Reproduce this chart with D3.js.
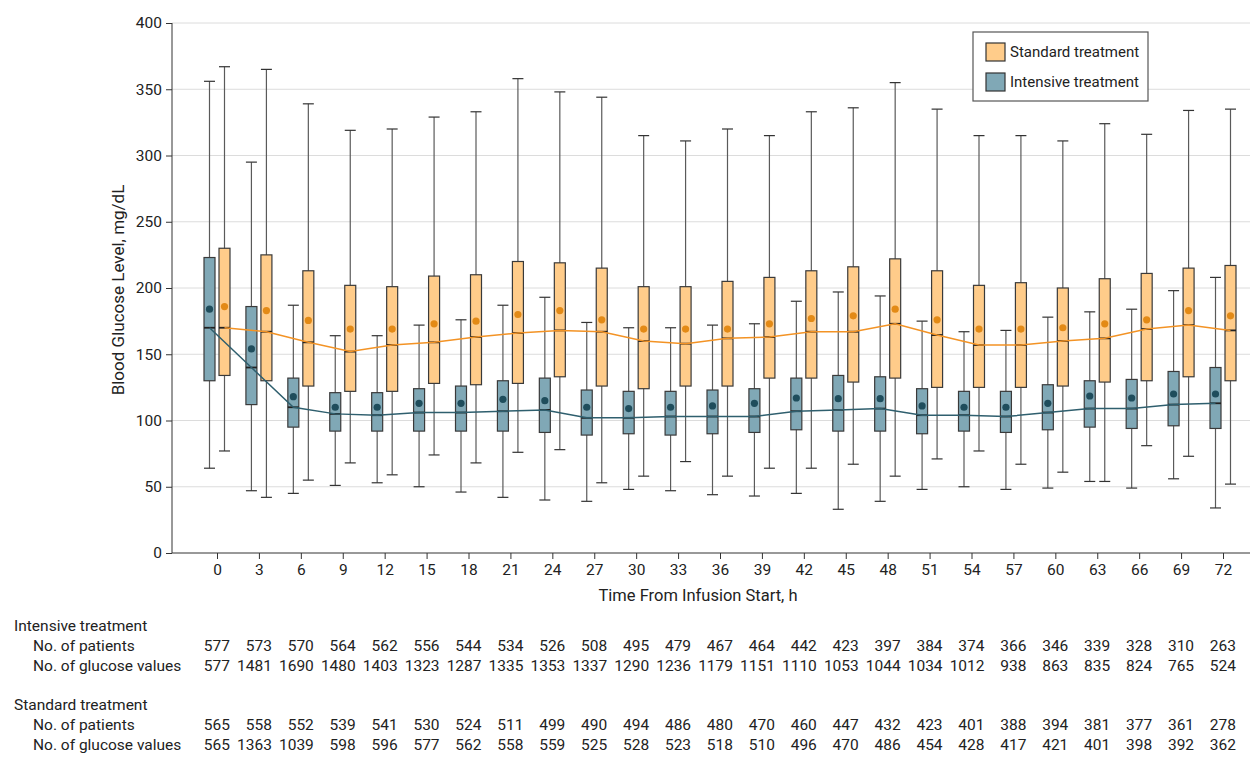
<!DOCTYPE html>
<html>
<head>
<meta charset="utf-8">
<script src="https://cdn.jsdelivr.net/npm/d3@7"></script>
<style>
  body { margin: 0; background: #fff; }
  svg { font-family: Roboto, "Noto Sans", sans-serif; }
</style>
</head>
<body>
<div id="chart"></div>
<script>
const hours = [0, 3, 6, 9, 12, 15, 18, 21, 24, 27, 30, 33, 36, 39, 42, 45, 48, 51, 54, 57, 60, 63, 66, 69, 72];

// intensive treatment box stats
const intLo   = [64, 47, 45, 51, 53, 50, 46, 42, 40, 39, 48, 47, 44, 43, 45, 33, 39, 48, 50, 48, 49, 54, 49, 56, 34];
const intQ1   = [130, 112, 95, 92, 92, 92, 92, 92, 91, 89, 90, 89, 90, 91, 93, 92, 92, 90, 92, 91, 93, 95, 94, 96, 94];
const intMed  = [170, 140, 110, 105, 104, 106, 106, 107, 108, 102, 102, 103, 103, 103, 107, 108, 109, 104, 104, 103, 106, 109, 109, 112, 113];
const intQ3   = [223, 186, 132, 121, 121, 124, 126, 130, 132, 123, 122, 122, 123, 124, 132, 134, 133, 124, 122, 122, 127, 130, 131, 137, 140];
const intHi   = [356, 295, 187, 164, 164, 172, 176, 187, 193, 174, 170, 170, 172, 173, 190, 197, 194, 175, 167, 168, 178, 182, 184, 198, 208];
const intMean = [184, 154, 118, 110, 110, 113, 113, 116, 115, 110, 109, 110, 111, 113, 117, 116.5, 116.5, 111, 110, 110, 113, 118.5, 117, 120, 120];

// standard treatment box stats
const stdLo   = [77, 42, 55, 68, 59, 74, 68, 76, 78, 53, 58, 69, 58, 64, 64, 67, 58, 71, 77, 67, 61, 54, 81, 73, 52];
const stdQ1   = [134, 130, 126, 122, 122, 128, 127, 128, 133, 126, 124, 126, 126, 132, 132, 129, 132, 125, 125, 125, 126, 129, 130, 133, 130];
const stdMed  = [170, 167, 159, 152, 157, 159, 163, 166, 168, 167, 160, 158, 162, 163, 167, 167, 173, 164.5, 157, 157, 160, 162, 169, 172, 168];
const stdQ3   = [230, 225, 213, 202, 201, 209, 210, 220, 219, 215, 201, 201, 205, 208, 213, 216, 222, 213, 202, 204, 200, 207, 211, 215, 217];
const stdHi   = [367, 365, 339, 319, 320, 329, 333, 358, 348, 344, 315, 311, 320, 315, 333, 336, 355, 335, 315, 315, 311, 324, 316, 334, 335];
const stdMean = [186, 183, 175.5, 169, 169, 173, 175, 180, 183, 176, 169, 169, 169, 173, 177, 179, 184, 176, 169, 169, 170, 173, 176, 183, 179];

// table under the chart
const intPatients = [577, 573, 570, 564, 562, 556, 544, 534, 526, 508, 495, 479, 467, 464, 442, 423, 397, 384, 374, 366, 346, 339, 328, 310, 263];
const intValues   = [577, 1481, 1690, 1480, 1403, 1323, 1287, 1335, 1353, 1337, 1290, 1236, 1179, 1151, 1110, 1053, 1044, 1034, 1012, 938, 863, 835, 824, 765, 524];
const stdPatients = [565, 558, 552, 539, 541, 530, 524, 511, 499, 490, 494, 486, 480, 470, 460, 447, 432, 423, 401, 388, 394, 381, 377, 361, 278];
const stdValues   = [565, 1363, 1039, 598, 596, 577, 562, 558, 559, 525, 528, 523, 518, 510, 496, 470, 486, 454, 428, 417, 421, 401, 398, 392, 362];

const yTicks = [0, 50, 100, 150, 200, 250, 300, 350, 400];

const width = 1252, height = 769;
const plotLeft = 172, plotRight = 1250, plotTop = 23, plotBottom = 553;

const svg = d3.select("#chart").append("svg")
    .attr("width", width)
    .attr("height", height);

const x = d3.scaleLinear().domain([0, 72]).range([217, 1223]);
const y = d3.scaleLinear().domain([0, 400]).range([plotBottom, plotTop]);

const boxW = 11, off = 7.5;

const series = [
  {name: "Intensive treatment", dx: -off, fill: "#80a8b6", dot: "#1f4d5c", line: "#2f5f6e",
   lo: intLo, q1: intQ1, med: intMed, q3: intQ3, hi: intHi, mean: intMean},
  {name: "Standard treatment", dx: off, fill: "#ffcc8a", dot: "#e38a16", line: "#f39325",
   lo: stdLo, q1: stdQ1, med: stdMed, q3: stdQ3, hi: stdHi, mean: stdMean}
];

// gridlines
svg.append("g").selectAll("line")
  .data(yTicks.filter(d => d > 0))
  .enter().append("line")
    .attr("x1", plotLeft).attr("x2", plotRight)
    .attr("y1", d => y(d)).attr("y2", d => y(d))
    .attr("stroke", "#dcdcdc")
    .attr("stroke-width", 1);

// boxes
series.forEach(s => {
  const g = svg.append("g");
  const cx = i => x(hours[i]) + s.dx;
  const idx = d3.range(hours.length);

  g.selectAll(".whisker").data(idx).enter().append("line")
      .attr("x1", cx).attr("x2", cx)
      .attr("y1", i => y(s.lo[i])).attr("y2", i => y(s.hi[i]))
      .attr("stroke", "#5a5a5a").attr("stroke-width", 1.2);

  [s.lo, s.hi].forEach(arr => {
    g.selectAll(null).data(idx).enter().append("line")
        .attr("x1", i => cx(i) - boxW / 2).attr("x2", i => cx(i) + boxW / 2)
        .attr("y1", i => y(arr[i])).attr("y2", i => y(arr[i]))
        .attr("stroke", "#333").attr("stroke-width", 1.2);
  });

  g.selectAll(".box").data(idx).enter().append("rect")
      .attr("x", i => cx(i) - boxW / 2)
      .attr("width", boxW)
      .attr("y", i => y(s.q3[i]))
      .attr("height", i => y(s.q1[i]) - y(s.q3[i]))
      .attr("fill", s.fill)
      .attr("stroke", "#3a3a3a")
      .attr("stroke-width", 1.2);

  g.selectAll(".median").data(idx).enter().append("line")
      .attr("x1", i => cx(i) - boxW / 2).attr("x2", i => cx(i) + boxW / 2)
      .attr("y1", i => y(s.med[i])).attr("y2", i => y(s.med[i]))
      .attr("stroke", "#222").attr("stroke-width", 1.8);
});

// median trend lines and means on top
series.forEach(s => {
  const line = d3.line()
      .x(i => x(hours[i]) + s.dx)
      .y(i => y(s.med[i]));
  svg.append("path")
      .datum(d3.range(hours.length))
      .attr("d", line)
      .attr("fill", "none")
      .attr("stroke", s.line)
      .attr("stroke-width", 1.5);
});

series.forEach(s => {
  svg.append("g").selectAll("circle")
    .data(d3.range(hours.length))
    .enter().append("circle")
      .attr("cx", i => x(hours[i]) + s.dx)
      .attr("cy", i => y(s.mean[i]))
      .attr("r", 3.6)
      .attr("fill", s.dot);
});

// axes
const yAxis = svg.append("g")
    .attr("transform", "translate(" + plotLeft + ",0)")
    .call(d3.axisLeft(y).tickValues(yTicks).tickSize(6).tickPadding(4));
yAxis.select(".domain").remove();

const xAxis = svg.append("g")
    .attr("transform", "translate(0," + plotBottom + ")")
    .call(d3.axisBottom(x).tickValues(hours).tickSize(6).tickPadding(5).tickFormat(d3.format("d")));
xAxis.select(".domain").remove();

[yAxis, xAxis].forEach(a => {
  a.selectAll("text").attr("font-size", 15.5).attr("fill", "#222").attr("font-family", "Roboto, sans-serif");
  a.selectAll(".tick line").attr("stroke", "#333");
});

svg.append("line")
    .attr("x1", plotLeft).attr("x2", plotLeft).attr("y1", plotTop).attr("y2", plotBottom)
    .attr("stroke", "#333");
svg.append("line")
    .attr("x1", plotLeft).attr("x2", plotRight).attr("y1", plotBottom).attr("y2", plotBottom)
    .attr("stroke", "#333");

svg.append("text")
    .attr("transform", "translate(124," + 290 + ") rotate(-90)")
    .attr("text-anchor", "middle")
    .attr("font-size", 17)
    .attr("fill", "#222")
    .text("Blood Glucose Level, mg/dL");

svg.append("text")
    .attr("x", 698)
    .attr("y", 601)
    .attr("text-anchor", "middle")
    .attr("font-size", 16.5)
    .attr("fill", "#222")
    .text("Time From Infusion Start, h");

// legend
const leg = svg.append("g").attr("transform", "translate(973,32)");
leg.append("rect")
    .attr("width", 175).attr("height", 69)
    .attr("fill", "#fff").attr("stroke", "#555").attr("stroke-width", 1.2);
[series[1], series[0]].forEach((s, k) => {
  leg.append("rect")
      .attr("x", 13).attr("y", 11 + k * 30)
      .attr("width", 19).attr("height", 18)
      .attr("fill", s.fill).attr("stroke", "#333").attr("stroke-width", 1.2);
  leg.append("text")
      .attr("x", 37).attr("y", 25 + k * 30)
      .attr("font-size", 15)
      .attr("fill", "#222")
      .text(s.name);
});

// table
const rows = [
  {label: "Intensive treatment", y: 631, indent: 14},
  {label: "No. of patients", y: 651, indent: 33, vals: intPatients},
  {label: "No. of glucose values", y: 671, indent: 33, vals: intValues},
  {label: "Standard treatment", y: 710, indent: 14},
  {label: "No. of patients", y: 730, indent: 33, vals: stdPatients},
  {label: "No. of glucose values", y: 750, indent: 33, vals: stdValues}
];
const table = svg.append("g").attr("font-size", 15.5).attr("fill", "#222");
rows.forEach(r => {
  table.append("text").attr("x", r.indent).attr("y", r.y).text(r.label);
  if (r.vals) {
    table.selectAll(null).data(r.vals).enter().append("text")
        .attr("x", (d, i) => x(hours[i]) + 13)
        .attr("y", r.y)
        .attr("text-anchor", "end")
        .text(d => d);
  }
});
</script>
</body>
</html>
